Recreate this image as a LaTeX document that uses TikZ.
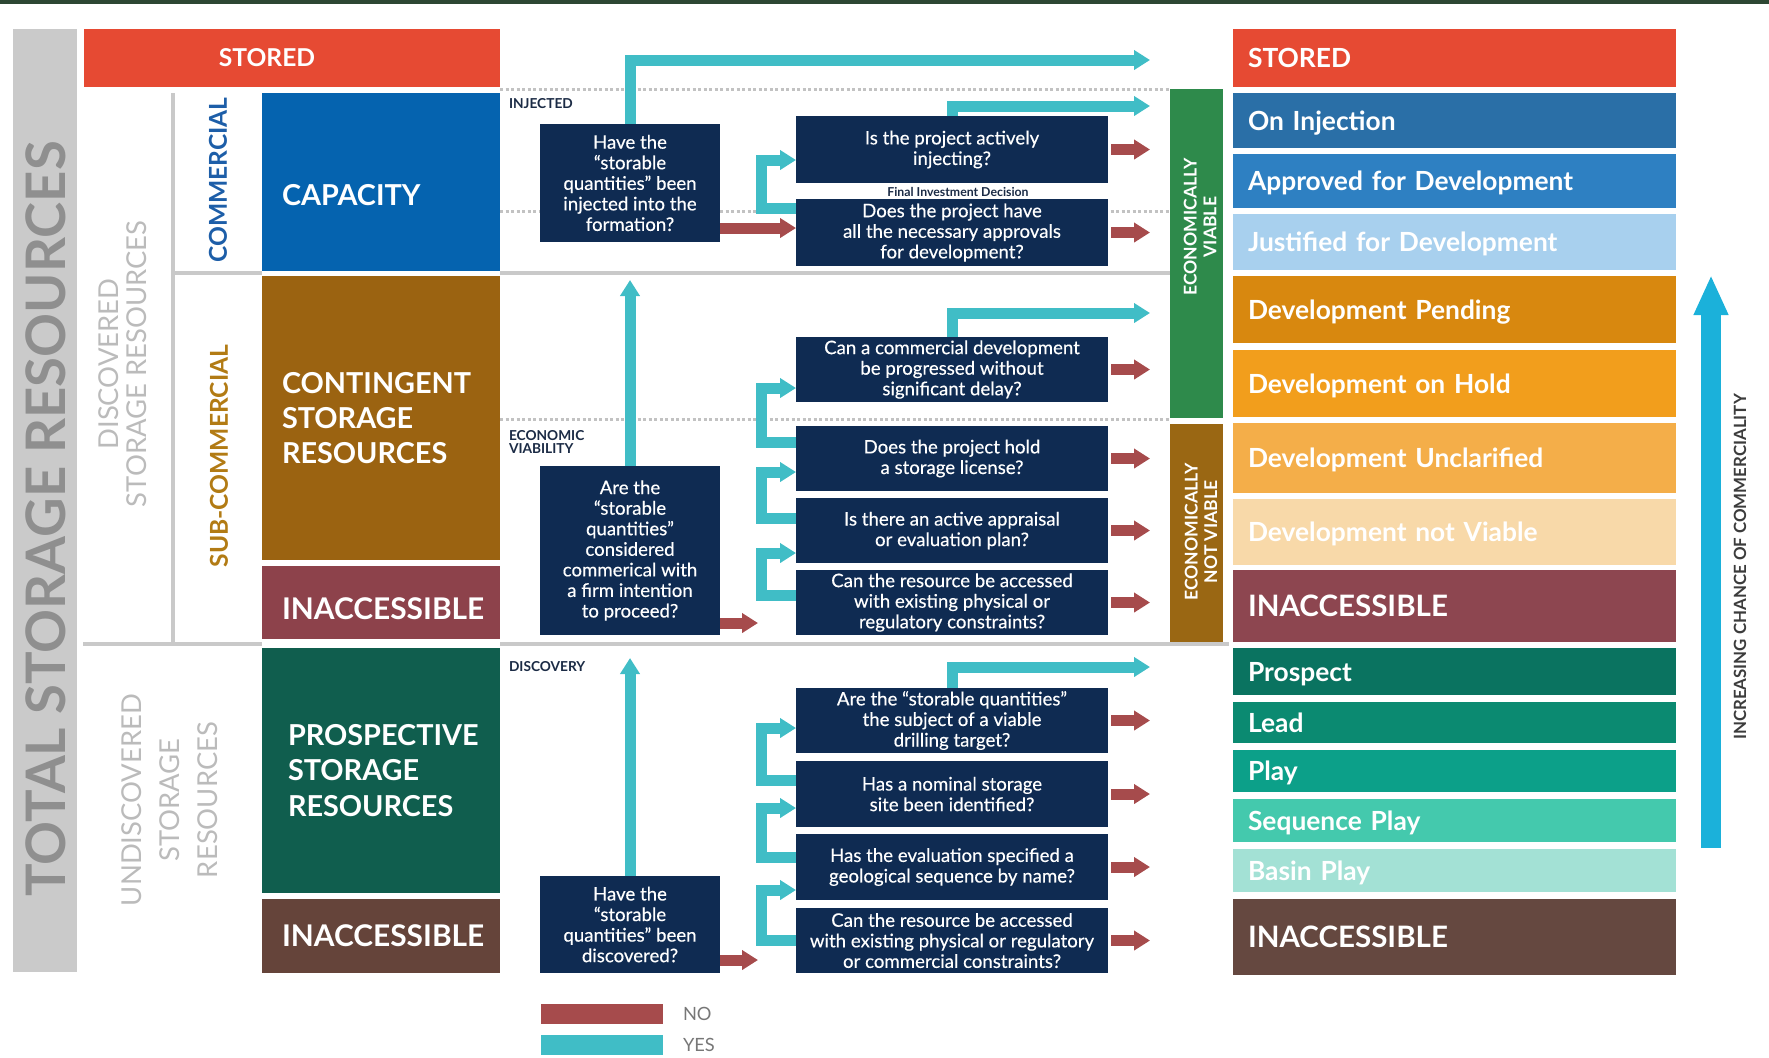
\documentclass[tikz,border=0pt]{standalone}
\usepackage{fontspec}
\setmainfont{Lato}
\newfontfamily\qfont{Lato}[FakeBold=0.35]
\usetikzlibrary{arrows.meta}
\usetikzlibrary{positioning}

\definecolor{topstrip}{HTML}{2D4733}
\definecolor{storedred}{HTML}{E64A33}
\definecolor{capblue}{HTML}{0563AF}
\definecolor{contbrown}{HTML}{9B6311}
\definecolor{inaccred}{HTML}{8D424B}
\definecolor{prospgreen}{HTML}{105E4E}
\definecolor{inaccbrown}{HTML}{65443A}
\definecolor{navy}{HTML}{0F2B52}
\definecolor{yesteal}{HTML}{40BDC6}
\definecolor{nored}{HTML}{A64B4C}
\definecolor{ecogreen}{HTML}{2E8A4B}
\definecolor{ecobrown}{HTML}{9A6713}
\definecolor{oninj}{HTML}{2A6FA7}
\definecolor{approved}{HTML}{2E80C2}
\definecolor{justified}{HTML}{A8D0EE}
\definecolor{pending}{HTML}{D8880F}
\definecolor{hold}{HTML}{F29E1C}
\definecolor{unclar}{HTML}{F4AE49}
\definecolor{notviable}{HTML}{F8D9A9}
\definecolor{rinacc}{HTML}{8D4650}
\definecolor{prospect}{HTML}{0A7360}
\definecolor{lead}{HTML}{0B8A71}
\definecolor{play}{HTML}{0CA089}
\definecolor{seqplay}{HTML}{44C9AD}
\definecolor{basin}{HTML}{A3E1D5}
\definecolor{rinaccb}{HTML}{654840}
\definecolor{commblue}{HTML}{1BB1DA}
\definecolor{totbar}{HTML}{CACACA}
\definecolor{tottext}{HTML}{8F8F8F}
\definecolor{gridgrey}{HTML}{C9C9C9}
\definecolor{dotgrey}{HTML}{C2C2C2}
\definecolor{discgrey}{HTML}{BBBBBB}
\definecolor{commtxt}{HTML}{1D5EA8}
\definecolor{subtxt}{HTML}{B27B14}
\definecolor{labnavy}{HTML}{1B2B45}
\definecolor{legtext}{HTML}{777777}
\definecolor{darktxt}{HTML}{3C3C3C}

\begin{document}
\begin{tikzpicture}[x=0.1mm,y=-0.1mm,
    every node/.style={inner sep=0pt,outer sep=0pt},
    lbox/.style={minimum width=23.8mm,inner xsep=2mm,text width=19.8mm,align=left,
        text=white,font=\bfseries\fontsize{8.2}{10}\selectfont},
    rbox/.style={minimum width=44.3mm,inner xsep=1.5mm,text width=41.3mm,align=left,
        text=white,text height=5.4pt,text depth=0pt,font=\bfseries\fontsize{7.5}{8}\selectfont},
    rbigbox/.style={rbox,text height=6pt,font=\bfseries\fontsize{8.4}{9}\selectfont},
    qbox/.style={fill=navy,text=white,align=center,font=\qfont\fontsize{5.3}{5.85}\selectfont},
    yesarr/.style={draw=yesteal,line width=1.1mm,-{Triangle[width=1.9mm,length=1.6mm]}},
    noarr/.style={draw=nored,line width=1.1mm,-{Triangle[width=1.9mm,length=1.6mm]}},
    tag/.style={text=labnavy,font=\bfseries\fontsize{3.9}{3.8}\selectfont,align=left},
    dotline/.style={draw=dotgrey,line width=0.3mm,dash pattern=on 0.3mm off 0.25mm},
    treeline/.style={draw=gridgrey,line width=0.4mm},
    sidelabel/.style={rotate=90,align=center}
    ]
    \useasboundingbox (0,0) rectangle (1769,1057);
    \fill[topstrip] (0,0) rectangle (1769,3.5);

    % guide lines
    \draw[dotline] (500,89) -- (1170,89);
    \draw[dotline] (500,211) -- (1170,211);
    \draw[dotline] (500,419) -- (1170,419);
    \draw[treeline] (173,93) -- (173,644);
    \draw[treeline] (173,273) -- (262,273);
    \draw[treeline] (500,273) -- (1170,273);
    \draw[treeline] (83,644) -- (262,644);
    \draw[treeline] (500,644) -- (1229,644);

    % left side
    \node[fill=totbar,minimum width=6.4mm,minimum height=94.3mm] (totbar) at (45,500.5) {};
    \node[sidelabel,text=tottext,font=\bfseries\fontsize{15.5}{16}\selectfont] (total) at (46,519) {TOTAL STORAGE RESOURCES};
    \node[sidelabel,text=discgrey,font=\fontsize{7.8}{8}\selectfont] (disc) at (122.5,364) {DISCOVERED\\STORAGE RESOURCES};
    \node[sidelabel,text=discgrey,font=\fontsize{7.8}{10.8}\selectfont] (undisc) at (170,800) {UNDISCOVERED\\STORAGE\\RESOURCES};
    \node[sidelabel,text=commtxt,font=\bfseries\fontsize{7}{8}\selectfont] (comm) at (218,180) {COMMERCIAL};
    \node[sidelabel,text=subtxt,font=\bfseries\fontsize{7}{8}\selectfont] (subcomm) at (219,456) {SUB-COMMERCIAL};

    \node[fill=storedred,minimum width=41.6mm,minimum height=5.8mm,text=white,
        font=\bfseries\fontsize{7}{8}\selectfont] (storedl) at (292,58) {STORED\hspace*{5mm}};
    \node[lbox,fill=capblue,minimum height=17.8mm,text height=13.2pt,text depth=0pt] (capacity) at (381,182) {CAPACITY};
    \node[lbox,fill=contbrown,minimum height=28.4mm] (contingent) at (381,418) {CONTINGENT\\STORAGE\\RESOURCES};
    \node[lbox,fill=inaccred,minimum height=7.3mm,text height=9.5pt,text depth=0pt,
        font=\bfseries\fontsize{8.5}{10}\selectfont] (inaccl) at (381,602.5) {INACCESSIBLE};
    \node[lbox,fill=prospgreen,minimum height=24.5mm,inner xsep=2.6mm,text width=18.6mm] (prospective) at (381,770.5) {PROSPECTIVE\\STORAGE\\RESOURCES};
    \node[lbox,fill=inaccbrown,minimum height=7.4mm,text height=5.8pt,text depth=0pt,
        font=\bfseries\fontsize{8.5}{10}\selectfont] (inaccu) at (381,936) {INACCESSIBLE};

    % questions
    \node[qbox,minimum width=18mm,minimum height=11.8mm] (q1) at (630,183) {Have the\\“storable\\quantities” been\\injected into the\\formation?};
    \node[qbox,minimum width=31.2mm,minimum height=6.7mm] (q1a) at (952,149.5) {Is the project actively\\injecting?};
    \node[qbox,minimum width=31.2mm,minimum height=6.7mm] (q1b) at (952,232.5) {Does the project have\\all the necessary approvals\\for development?};
    \node[text=labnavy,font=\bfseries\fontsize{3.5}{4}\selectfont] (fid) at (958,192) {Final Investment Decision};

    \node[qbox,minimum width=18mm,minimum height=16.9mm] (q2) at (630,550.5) {Are the\\“storable\\quantities”\\considered\\commerical with\\a firm intention\\to proceed?};
    \node[qbox,minimum width=31.2mm,minimum height=6.5mm] (q2a) at (952,369.5) {Can a commercial development\\be progressed without\\significant delay?};
    \node[qbox,minimum width=31.2mm,minimum height=6.5mm] (q2b) at (952,458.5) {Does the project hold\\a storage license?};
    \node[qbox,minimum width=31.2mm,minimum height=6.5mm] (q2c) at (952,530.5) {Is there an active appraisal\\or evaluation plan?};
    \node[qbox,minimum width=31.2mm,minimum height=6.5mm] (q2d) at (952,602.5) {Can the resource be accessed\\with existing physical or\\regulatory constraints?};

    \node[qbox,minimum width=18mm,minimum height=9.7mm] (q3) at (630,924.5) {Have the\\“storable\\quantities” been\\discovered?};
    \node[qbox,minimum width=31.2mm,minimum height=6.5mm] (q3a) at (952,720.5) {Are the “storable quantities”\\the subject of a viable\\drilling target?};
    \node[qbox,minimum width=31.2mm,minimum height=6.6mm] (q3b) at (952,794) {Has a nominal storage\\site been identified?};
    \node[qbox,minimum width=31.2mm,minimum height=6.6mm] (q3c) at (952,867) {Has the evaluation specified a\\geological sequence by name?};
    \node[qbox,minimum width=31.2mm,minimum height=6.5mm] (q3d) at (952,940.5) {Can the resource be accessed\\with existing physical or regulatory\\or commercial constraints?};

    \node[tag,anchor=west] (injtag) at (509,104) {INJECTED};
    \node[tag,anchor=north west] (ecotag) at (509,430) {ECONOMIC\\VIABILITY};
    \node[tag,anchor=west] (disctag) at (509,667) {DISCOVERY};

    % viability bars
    \node[fill=ecogreen,minimum width=5.3mm,minimum height=32.9mm] (ecov) at (1196.5,253.5) {};
    \node[sidelabel,text=white,font=\bfseries\fontsize{5}{5.6}\selectfont] (ecovtxt) at (1200,227) {ECONOMICALLY\\VIABLE};
    \node[fill=ecobrown,minimum width=5.3mm,minimum height=21.8mm] (econv) at (1196.5,533) {};
    \node[sidelabel,text=white,font=\bfseries\fontsize{5}{5.6}\selectfont] (econvtxt) at (1201,532) {ECONOMICALLY\\NOT VIABLE};

    % right column
    \node[rbox,fill=storedred,minimum height=5.8mm] (rstored) at (1454.5,58) {STORED};
    \node[rbox,fill=oninj,minimum height=5.5mm] (rinj) at (1454.5,120.5) {On Injection};
    \node[rbox,fill=approved,minimum height=5.4mm] (rappr) at (1454.5,181) {Approved for Development};
    \node[rbox,fill=justified,minimum height=5.6mm] (rjust) at (1454.5,242) {Justified for Development};
    \node[rbox,fill=pending,minimum height=6.7mm] (rpend) at (1454.5,309.5) {Development Pending};
    \node[rbox,fill=hold,minimum height=6.7mm] (rhold) at (1454.5,383.5) {Development on Hold};
    \node[rbox,fill=unclar,minimum height=7mm] (runcl) at (1454.5,458) {Development Unclarified};
    \node[rbox,fill=notviable,minimum height=6.6mm] (rnotv) at (1454.5,532) {Development not Viable};
    \node[rbigbox,fill=rinacc,minimum height=7.2mm] (rinacc) at (1454.5,606) {INACCESSIBLE};
    \node[rbox,fill=prospect,minimum height=4.7mm] (rprosp) at (1454.5,671.5) {Prospect};
    \node[rbox,fill=lead,minimum height=4.1mm] (rlead) at (1454.5,722.5) {Lead};
    \node[rbox,fill=play,minimum height=4.2mm] (rplay) at (1454.5,771) {Play};
    \node[rbox,fill=seqplay,minimum height=4.3mm] (rseq) at (1454.5,820.5) {Sequence Play};
    \node[rbox,fill=basin,minimum height=4.3mm] (rbasin) at (1454.5,870.5) {Basin Play};
    \node[rbigbox,fill=rinaccb,minimum height=7.6mm] (rinaccb) at (1454.5,937) {INACCESSIBLE};

    \coordinate (commlo) at (1711,848);
    \coordinate (commhi) at (1711,275);
    \draw[draw=commblue,line width=2mm,-{Triangle[width=3.2mm,length=4mm]}] (commlo) -- (commhi);
    \node[sidelabel,text=darktxt,font=\bfseries\fontsize{4.8}{5}\selectfont] (incr) at (1740,567) {INCREASING CHANCE OF COMMERCIALITY};

    % yes / no arrows
    \coordinate (tipx) at (1150,0);
    \draw[yesarr] (q1.north) |- (tipx |- 0,60);
    \draw[yesarr] (q1a.north) |- (tipx |- 0,106);
    \draw[yesarr] (q1b.west |- 0,208) -| (761,184) |- (q1a.west |- 0,160);
    \draw[noarr] (q1.east |- 0,228) -- (q1b.west |- 0,228);
    \draw[noarr] ([xshift=0.3mm]q1a.east) -- (tipx |- q1a.east);
    \draw[noarr] ([xshift=0.3mm]q1b.east) -- (tipx |- q1b.east);

    \draw[yesarr] (q2.north) -- (q2.north |- 0,280);
    \draw[yesarr] (q2a.north) |- (tipx |- 0,313);
    \draw[yesarr] (q2b.west |- 0,442) -| (761,415) |- (q2a.west |- 0,388);
    \draw[yesarr] (q2c.west |- 0,518) -| (761,495) |- (q2b.west |- 0,472);
    \draw[yesarr] (q2d.west |- 0,595) -| (761,575) |- (q2c.west |- 0,553);
    \draw[noarr] (q2.east |- 0,623) -- ++(38,0);
    \foreach \q in {q2a,q2b,q2c,q2d}
        \draw[noarr] ([xshift=0.3mm]\q.east) -- (tipx |- \q.east);

    \draw[yesarr] (q3.north) -- (q3.north |- 0,658);
    \draw[yesarr] (q3a.north) |- (tipx |- 0,667);
    \draw[yesarr] (q3b.west |- 0,780) -| (761,755) |- (q3a.west |- 0,728);
    \draw[yesarr] (q3c.west |- 0,857) -| (761,830) |- (q3b.west |- 0,808);
    \draw[yesarr] (q3d.west |- 0,940) -| (761,915) |- (q3c.west |- 0,890);
    \draw[noarr] (q3.east |- 0,960) -- ++(38,0);
    \foreach \q in {q3a,q3b,q3c,q3d}
        \draw[noarr] ([xshift=0.3mm]\q.east) -- (tipx |- \q.east);

    % legend
    \node[fill=nored,minimum width=12.2mm,minimum height=2mm] (legno) at (602,1014) {};
    \node[fill=yesteal,minimum width=12.2mm,minimum height=2mm] (legyes) at (602,1045) {};
    \node[right=2mm of legno,text=legtext,font=\fontsize{5.2}{6}\selectfont] (legnotxt) {NO};
    \node[right=2mm of legyes,text=legtext,font=\fontsize{5.2}{6}\selectfont] (legyestxt) {YES};
\end{tikzpicture}
\end{document}
